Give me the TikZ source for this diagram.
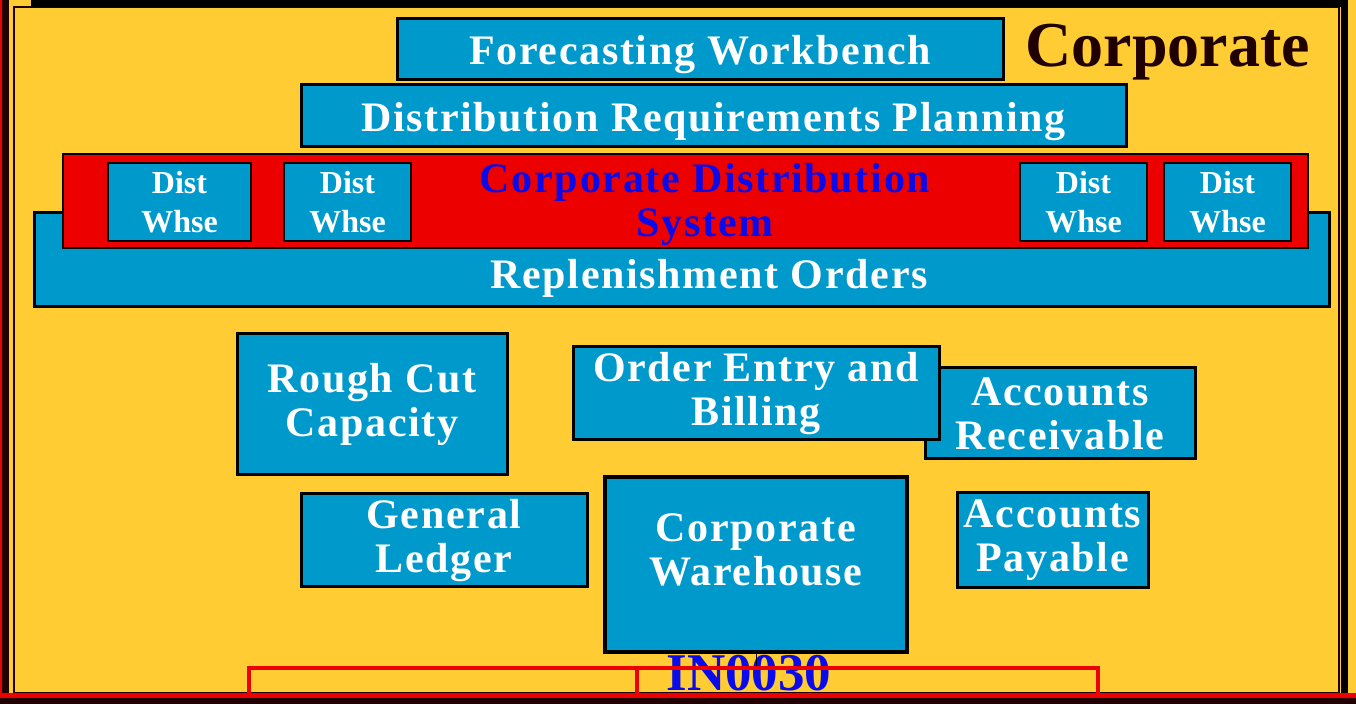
\documentclass[tikz,border=0pt]{standalone}
\usepackage{fontspec}
\setmainfont{Liberation Serif}
\newfontfamily\boxfont[LetterSpace=4]{Liberation Serif}

\definecolor{bgyellow}{RGB}{255,204,51}
\definecolor{boxblue}{RGB}{0,153,204}
\definecolor{cdsred}{RGB}{236,0,0}
\definecolor{darkframe}{RGB}{32,0,0}
\definecolor{labelblue}{RGB}{10,10,235}

\begin{document}
\begin{tikzpicture}[x=0.5pt, y=-0.5pt,
	box/.style={draw=black, line width=1.5pt, fill=boxblue, text=white, align=center, inner sep=0pt,
		font=\boxfont\bfseries\fontsize{21pt}{22pt}\selectfont},
	oneline/.style={text height=15.5pt, text depth=0pt},
	whse/.style={box, line width=1pt, minimum width=63.5pt, minimum height=39pt,
		font=\bfseries\fontsize{16pt}{19.5pt}\selectfont},
	boxtext/.style={text=white, align=center, inner sep=0pt,
		font=\boxfont\bfseries\fontsize{21pt}{22pt}\selectfont},
	bracket/.style={draw=cdsred, line width=2pt}]
	\useasboundingbox (0,0) rectangle (1356,704);
	
	% Frame
	\fill [bgyellow] (0,0) rectangle (1356,704);
	\fill [cdsred] (0,0) rectangle (2,704);
	\fill [darkframe] (2,0) rectangle (9,698);
	\draw [darkframe, line width=1pt] (13.5,7) rectangle (1338.5,693);
	\fill [black] (31,0) rectangle (1348,7);
	\fill [black] (1341,0) rectangle (1348,693);
	
	% Nodes {rep, cds, dw1..dw4, fwb, drp, etc}
	\node [box, minimum width=647.5pt, minimum height=47pt] (rep) at (681.5,260) {};
	\node [box, fill=cdsred, line width=1pt, minimum width=622.5pt, minimum height=47pt] (cds) at (685.5,201) {};
	\node [whse, minimum width=71.5pt] 	(dw1) at (179.5,202) 	{Dist\\Whse};
	\node [whse] 	(dw2) at (347.5,202) 	{Dist\\Whse};
	\node [whse] 	(dw3) at (1083.5,202) 	{Dist\\Whse};
	\node [whse] 	(dw4) at (1227.5,202) 	{Dist\\Whse};
	\node [boxtext, text=labelblue] (cdstext) at (705,204.5) {Corporate Distribution\\System};
	\node [boxtext, oneline] (reptext) at (709,273.5) {Replenishment Orders};
	
	\node [box, oneline, minimum width=303pt, minimum height=30.5pt] 	(fwb) at (700,49.5) 	{Forecasting Workbench};
	\node [box, oneline, minimum width=412.5pt, minimum height=31pt] 	(drp) at (713.5,116) 	{Distribution Requirements Planning};
	\node [font=\bfseries\fontsize{32pt}{34pt}\selectfont, text=darkframe, anchor=base west, inner sep=0pt] (corp) at (1025,67) {Corporate};
	
	\node [box, minimum width=135pt, minimum height=70.5pt] 	(rcc) at (372,404.5) 	{Rough Cut\\Capacity};
	\node [box, minimum width=135pt, minimum height=45.5pt] 	(ar) at (1060,413.5) 	{Accounts\\Receivable};
	\node [box, minimum width=183pt, minimum height=46.5pt] 	(oeb) at (756,393.5) 	{Order Entry and\\Billing};
	\node [box, minimum width=143pt, minimum height=46.5pt] 	(gl) at (444,540.5) 	{General\\Ledger};
	\node [box, line width=2pt, minimum width=151pt, minimum height=87.5pt] (cw) at (756,564.5) {};
	\node [boxtext] (cwtext) at (756,550) {Corporate\\Warehouse};
	\node [box, minimum width=95.5pt, minimum height=47.5pt] 	(ap) at (1052.5,540.5) 	{Accounts\\Payable};
	
	% Paths
	\node [font=\bfseries\fontsize{26.5pt}{28pt}\selectfont, text=labelblue, anchor=base, inner sep=0pt] (code) at (749,691) {IN0030};
	\coordinate (cwfoot) at (757,668);
	\draw [black, line width=0.5pt] (cw.south) -- (cw.south |- cwfoot);
	\draw [bracket] (249,693) -- (249,668) -- (1098,668) -- (1098,693);
	\draw [bracket] (637,668) -- (637,693);
	
	\fill [cdsred] (0,693) rectangle (1356,698);
	\fill [darkframe] (0,698) rectangle (1356,704);
\end{tikzpicture}
\end{document}
